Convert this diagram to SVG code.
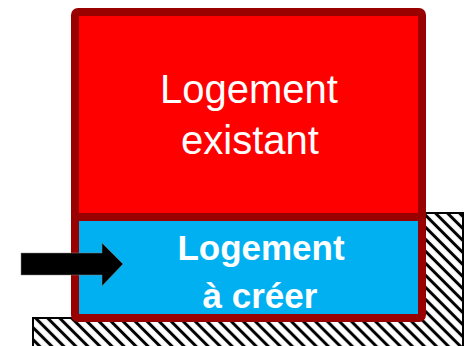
<svg xmlns="http://www.w3.org/2000/svg" width="469" height="346" viewBox="0 0 469 346">
  <defs>
    <pattern id="hatch" patternUnits="userSpaceOnUse" width="8.5" height="8.5" patternTransform="rotate(45)">
      <rect width="8.5" height="8.5" fill="#ffffff"/>
      <line x1="0" y1="4.25" x2="8.5" y2="4.25" stroke="#000000" stroke-width="3"/>
    </pattern>
  </defs>
  <style>
    .lbl { fill: #ffffff; font-family: "Liberation Sans", Arial, sans-serif; text-anchor: middle; }
    .thin { font-size: 40px; }
    .bold { font-size: 35px; font-weight: bold; }
  </style>
  <g id="ground">
    <path d="M33,350 L33,318 L420,318 L420,213 L463,213 L463,350 Z" fill="url(#hatch)" stroke="#000000" stroke-width="2"/>
  </g>
  <g id="logement-existant">
    <rect x="75" y="12" width="347" height="205" fill="#ff0000"/>
    <text class="lbl thin" x="249" y="103">Logement</text>
    <text class="lbl thin" x="250" y="154">existant</text>
  </g>
  <g id="logement-a-creer">
    <rect x="75" y="217" width="347" height="101" fill="#00b0f0"/>
    <text class="lbl bold" x="261" y="260">Logement</text>
    <text class="lbl bold" x="260" y="308">à créer</text>
  </g>
  <g id="frame">
    <rect x="75" y="12" width="347" height="306" rx="3" fill="none" stroke="#990000" stroke-width="8"/>
    <line x1="75" y1="217" x2="422" y2="217" stroke="#990000" stroke-width="8"/>
  </g>
  <g id="connectors">
    <polygon points="21,253 102,253 102,243 123,264 102,286 102,275 21,275" fill="#000000" stroke="#888888" stroke-width="0.5"/>
  </g>
</svg>
